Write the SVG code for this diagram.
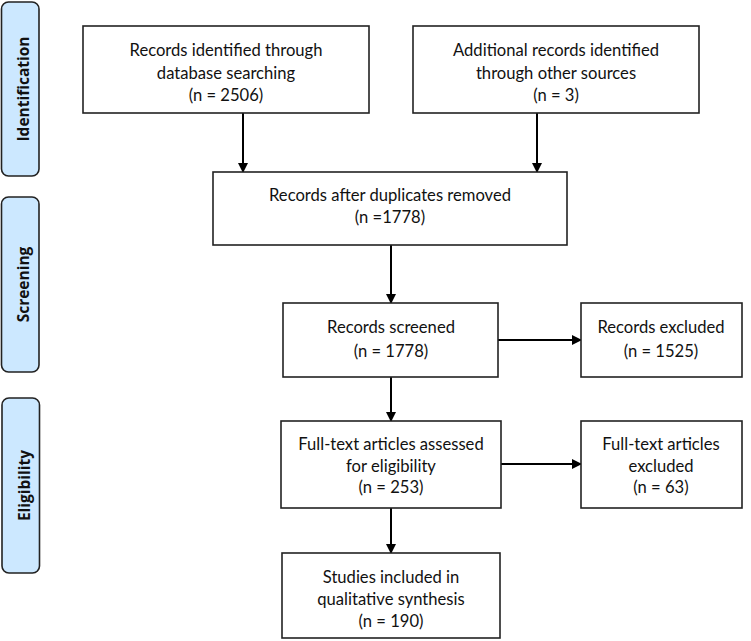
<svg xmlns="http://www.w3.org/2000/svg" width="751" height="641" viewBox="0 0 751 641">
<defs>
<marker id="ah" markerWidth="10" markerHeight="10" refX="9" refY="5" orient="auto" markerUnits="userSpaceOnUse">
<path d="M0,0 L10,5 L0,10 Z" fill="#000"/>
</marker>
<style>
.box{fill:#fff;stroke:#222;stroke-width:1.6}
.side{fill:#cce8ff;stroke:#222;stroke-width:1.6}
.t{font-family:Lato,"Liberation Sans",sans-serif;font-size:16.6px;fill:#111;text-anchor:middle}
.s{font-family:"Open Sans","Liberation Sans",sans-serif;font-size:15.5px;font-weight:bold;fill:#111;text-anchor:middle}
.c{stroke:#000;stroke-width:2;fill:none}
</style>
</defs>
<rect width="751" height="641" fill="#fff"/>
<g id="phase-identification">
<rect class="side" x="1.5" y="2" width="37.5" height="174" rx="7"/>
<text class="s" transform="translate(29,89) rotate(-90)">Identification</text>
</g>
<g id="phase-screening">
<rect class="side" x="1.5" y="197" width="37.5" height="175" rx="7"/>
<text class="s" transform="translate(29,284.5) rotate(-90)">Screening</text>
</g>
<g id="phase-eligibility">
<rect class="side" x="2" y="398" width="37.5" height="175" rx="7"/>
<text class="s" transform="translate(29.5,485.5) rotate(-90)">Eligibility</text>
</g>
<g id="connectors">
<line class="c" x1="243" y1="113" x2="243" y2="172" marker-end="url(#ah)"/>
<line class="c" x1="537" y1="113" x2="537" y2="172" marker-end="url(#ah)"/>
<line class="c" x1="391" y1="245" x2="391" y2="303" marker-end="url(#ah)"/>
<line class="c" x1="391" y1="377" x2="391" y2="421" marker-end="url(#ah)"/>
<line class="c" x1="391" y1="508" x2="391" y2="553" marker-end="url(#ah)"/>
<line class="c" x1="498" y1="340" x2="581" y2="340" marker-end="url(#ah)"/>
<line class="c" x1="501" y1="464" x2="581" y2="464" marker-end="url(#ah)"/>
</g>
<g id="n-database">
<rect class="box" x="83" y="26" width="286" height="87"/>
<text class="t" x="226" y="56">Records identified through</text>
<text class="t" x="226" y="79">database searching</text>
<text class="t" x="226" y="101">(n = 2506)</text>
</g>
<g id="n-other">
<rect class="box" x="413" y="26" width="286" height="87"/>
<text class="t" x="556" y="56">Additional records identified</text>
<text class="t" x="556" y="79">through other sources</text>
<text class="t" x="556" y="101">(n = 3)</text>
</g>
<g id="n-duplicates">
<rect class="box" x="213" y="172" width="354" height="73"/>
<text class="t" x="390" y="201">Records after duplicates removed</text>
<text class="t" x="390" y="223">(n =1778)</text>
</g>
<g id="n-screened">
<rect class="box" x="283" y="303" width="215" height="74"/>
<text class="t" x="391" y="333">Records screened</text>
<text class="t" x="391" y="357">(n = 1778)</text>
</g>
<g id="n-excluded">
<rect class="box" x="581" y="303" width="161" height="74"/>
<text class="t" x="661" y="333">Records excluded</text>
<text class="t" x="661" y="357">(n = 1525)</text>
</g>
<g id="n-fulltext">
<rect class="box" x="281" y="421" width="220" height="87"/>
<text class="t" x="391" y="450">Full-text articles assessed</text>
<text class="t" x="391" y="472">for eligibility</text>
<text class="t" x="391" y="493">(n = 253)</text>
</g>
<g id="n-fulltext-excluded">
<rect class="box" x="581" y="421" width="161" height="87"/>
<text class="t" x="661" y="450">Full-text articles</text>
<text class="t" x="661" y="472">excluded</text>
<text class="t" x="661" y="493">(n = 63)</text>
</g>
<g id="n-included">
<rect class="box" x="282" y="553" width="218" height="85"/>
<text class="t" x="391" y="583">Studies included in</text>
<text class="t" x="391" y="605">qualitative synthesis</text>
<text class="t" x="391" y="627">(n = 190)</text>
</g>
</svg>
